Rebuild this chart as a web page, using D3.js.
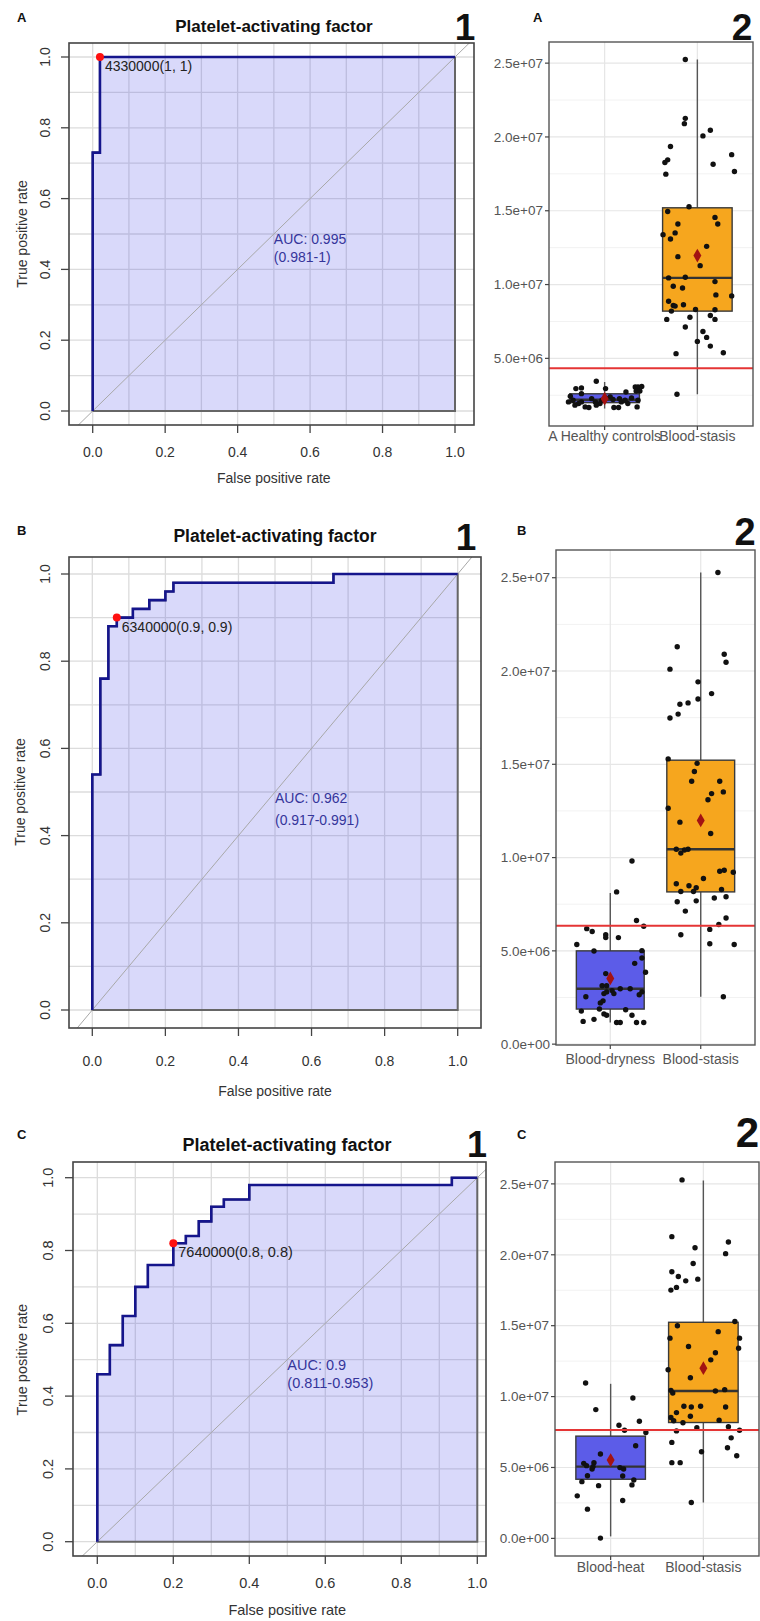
<!DOCTYPE html>
<html>
<head>
<meta charset="utf-8">
<style>
  body { margin:0; background:#fff; }
  svg { display:block; font-family: "Liberation Sans", Arial, sans-serif; }
</style>
<script src="https://d3js.org/d3.v7.min.js"></script>
</head>
<body>
<svg width="760" height="1621"></svg>
<script>
// ROC curves (step vertices, false positive rate / true positive rate)
var rocA_fpr = [0, 0, 0.02, 0.02, 1];
var rocA_tpr = [0, 0.73, 0.73, 1, 1];
var rocB_fpr = [0, 0, 0.022, 0.022, 0.044, 0.044, 0.067, 0.067, 0.111, 0.111, 0.156, 0.156, 0.2, 0.2, 0.222, 0.222, 0.66, 0.66, 1];
var rocB_tpr = [0, 0.54, 0.54, 0.76, 0.76, 0.88, 0.88, 0.90, 0.90, 0.92, 0.92, 0.94, 0.94, 0.96, 0.96, 0.98, 0.98, 1, 1];
var rocC_fpr = [0, 0, 0.033, 0.033, 0.067, 0.067, 0.1, 0.1, 0.133, 0.133, 0.2, 0.2, 0.233, 0.233, 0.267, 0.267, 0.3, 0.3, 0.333, 0.333, 0.4, 0.4, 0.933, 0.933, 1];
var rocC_tpr = [0, 0.46, 0.46, 0.54, 0.54, 0.62, 0.62, 0.70, 0.70, 0.76, 0.76, 0.82, 0.82, 0.84, 0.84, 0.88, 0.88, 0.92, 0.92, 0.94, 0.94, 0.98, 0.98, 1, 1];

var bestFpr = [0.02, 0.067, 0.2];
var bestTpr = [1, 0.9, 0.82];
var thrLabels = ["4330000(1, 1)", "6340000(0.9, 0.9)", "7640000(0.8, 0.8)"];
var aucText = ["AUC: 0.995", "AUC: 0.962", "AUC: 0.9"];
var aucCI = ["(0.981-1)", "(0.917-0.991)", "(0.811-0.953)"];
var rocTicks = [0, 0.2, 0.4, 0.6, 0.8, 1.0];

// cutoffs (millions)
var cutoffs = [4.33, 6.34, 7.64];

// boxplot groups
var groupsA = ["A Healthy controls", "Blood-stasis"];
var groupsB = ["Blood-dryness", "Blood-stasis"];
var groupsC = ["Blood-heat", "Blood-stasis"];
var boxTicks = [0, 5, 10, 15, 20, 25];

// box stats in millions: [lower whisker, q1, median, q3, upper whisker, mean]
var statsHealthy = [1.6, 2.0, 2.2, 2.6, 3.4, 2.27];
var statsStasisA = [2.57, 8.2, 10.45, 15.2, 25.25, 11.96];
var statsDry = [1.16, 1.88, 2.97, 5.0, 8.1, 3.52];
var statsStasisB = [2.54, 8.16, 10.45, 15.22, 25.28, 11.99];
var statsHeat = [0.14, 4.17, 5.06, 7.21, 10.9, 5.52];
var statsStasisC = [2.53, 8.17, 10.39, 15.24, 25.23, 12.0];

// jittered points: value (millions) and horizontal offset (category units)
var healthyVals = [3.45,2.95,2.95,3.0,2.72,3.06,3.06,3.1,2.79,2.79,2.43,2.61,2.05,1.94,1.71,1.67,2.05,1.94,2.32,2.39,1.67,1.67,2.05,1.94,1.71,2.16,2.27,2.21,2.32,2.27,1.83,2.16,2.16,2.05,1.83,2.16];
var healthyJit = [-0.09,0.01,-0.31,-0.25,0.23,0.33,0.36,0.40,0.34,0.38,-0.37,-0.25,-0.39,-0.28,-0.21,-0.17,-0.10,-0.05,0.01,0.06,0.10,0.15,0.18,0.25,0.35,-0.34,-0.14,0.09,0.29,0.16,-0.32,-0.03,0.22,-0.25,-0.09,0.36];
var stasisA_vals = [25.25,21.26,20.9,20.45,20.07,19.35,18.45,18.27,18.8,18.15,17.66,17.48,15.27,14.95,14.55,14.1,14.1,13.5,13.38,13.09,12.59,11.89,11.28,10.45,10.5,10.2,9.89,9.77,9.3,9.23,8.87,8.58,8.63,8.54,8.2,8.31,8.29,7.79,7.9,7.64,7.64,7.12,6.82,6.42,6.15,5.83,5.32,5.38,2.57];
var stasisA_jit = [-0.13,-0.13,-0.14,0.14,0.06,-0.29,-0.32,-0.35,0.37,0.17,0.40,-0.34,-0.09,-0.32,0.19,0.22,-0.21,-0.24,-0.37,-0.29,0.10,-0.21,0.03,-0.31,-0.13,0.19,-0.26,-0.16,0.20,0.37,-0.31,-0.26,-0.15,-0.24,-0.28,-0.02,0.19,-0.08,0.14,-0.33,0.19,-0.13,0.06,0.10,0.00,0.14,-0.23,0.28,-0.22];
var dryVals = [9.82,8.16,6.63,6.32,6.19,6.04,5.86,5.71,5.71,5.34,4.99,5.01,4.62,4.33,3.85,3.78,3.13,3.13,2.97,2.97,2.87,2.80,2.71,2.80,2.65,2.71,2.54,2.32,2.21,1.88,1.77,1.84,1.55,1.62,1.55,1.22,1.33,1.16,1.16,1.16,1.16];
var dryJit = [0.24,0.07,0.29,0.37,-0.26,-0.20,-0.05,-0.05,0.09,-0.37,-0.18,0.35,0.35,0.27,0.39,-0.05,-0.09,-0.04,0.22,0.11,0.02,-0.04,0.04,0.35,0.32,-0.07,-0.27,-0.08,-0.11,-0.12,-0.32,0.17,0.24,-0.07,-0.04,-0.30,-0.18,0.07,0.11,0.29,0.37];
var stasisB_vals = [25.28,21.3,20.9,20.47,20.1,19.42,18.79,18.22,18.29,17.69,17.48,18.5,15.29,15.05,14.61,14.09,14.09,13.52,13.43,13.1,12.64,11.9,11.29,10.45,10.45,10.24,10.41,9.32,9.27,9.21,8.88,8.6,8.49,8.38,8.18,8.18,8.29,7.9,7.83,7.63,7.68,7.13,6.76,6.41,6.15,5.86,5.38,5.34,2.54];
var stasisB_jit = [0.19,-0.26,0.26,0.28,-0.34,-0.03,0.12,-0.23,-0.14,-0.25,-0.34,-0.03,-0.36,-0.04,-0.07,-0.10,0.21,0.25,0.12,0.08,-0.36,-0.23,0.11,-0.27,-0.14,-0.22,-0.18,0.26,0.21,0.36,0.03,-0.27,-0.13,-0.05,-0.22,-0.08,0.23,0.28,0.15,-0.26,-0.05,-0.17,0.28,0.20,0.10,-0.22,0.10,0.37,0.25];
var heatVals = [10.96,9.9,9.08,7.98,8.26,7.63,7.47,6.53,5.95,5.29,5.13,5.34,5.06,4.89,4.42,4.0,4.99,4.89,4.4,4.12,3.77,3.72,3.0,2.67,2.06,0.02];
var heatJit = [-0.27,0.24,-0.16,0.09,0.31,0.15,0.38,0.27,-0.11,-0.29,-0.26,-0.18,-0.19,-0.20,-0.25,-0.31,0.10,0.14,0.13,0.25,0.23,-0.13,-0.36,0.13,-0.25,-0.11];
var stasisC_vals = [25.28,21.28,20.9,20.5,20.08,19.38,18.8,18.47,18.16,18.28,17.51,17.7,15.29,15.0,14.58,14.12,14.12,13.53,13.41,13.09,12.59,11.89,11.33,10.44,10.25,10.39,10.49,8.87,9.32,9.27,9.32,9.27,8.52,8.61,8.29,8.15,8.33,7.8,7.87,7.58,7.63,7.09,6.77,6.39,6.11,5.83,5.34,5.34,2.53];
var stasisC_jit = [-0.23,-0.34,0.27,-0.09,0.24,-0.11,-0.34,-0.27,-0.19,-0.06,-0.35,-0.29,0.34,-0.28,0.16,-0.36,0.39,-0.16,0.38,0.13,0.08,-0.38,-0.14,-0.35,-0.33,0.13,0.23,-0.29,-0.21,-0.13,-0.03,0.24,-0.35,-0.14,-0.32,-0.22,0.17,-0.07,0.27,-0.29,0.39,0.30,-0.34,0.26,-0.02,0.36,-0.34,-0.25,-0.13];

var svg = d3.select("svg");
var defs = svg.append("defs");

function bigLabel(x, y, txt, size, anchor) {
    svg.append("text").attr("x", x).attr("y", y)
        .attr("text-anchor", anchor || "middle")
        .style("font-size", size + "px").style("font-weight", "bold")
        .attr("fill", "#111").text(txt);
}

function drawRoc(p) {
    var x = d3.scaleLinear().domain([0, 1]).range([p.x0, p.x1]);
    var y = d3.scaleLinear().domain([0, 1]).range([p.y0, p.y1]);

    defs.append("clipPath").attr("id", "clip" + p.id)
        .append("rect").attr("x", p.l).attr("y", p.t)
        .attr("width", p.r - p.l).attr("height", p.b - p.t);
    var inner = svg.append("g").attr("clip-path", "url(#clip" + p.id + ")");

    var grid = d3.range(0, 11).map(d => d / 10);
    inner.selectAll(".vg").data(grid).enter().append("line")
        .attr("x1", d => x(d)).attr("x2", d => x(d))
        .attr("y1", p.t).attr("y2", p.b)
        .attr("stroke", "#dcdcdc").attr("stroke-width", 1.3);
    inner.selectAll(".hg").data(grid).enter().append("line")
        .attr("x1", p.l).attr("x2", p.r)
        .attr("y1", d => y(d)).attr("y2", d => y(d))
        .attr("stroke", "#dcdcdc").attr("stroke-width", 1.3);

    var pts = p.fpr.map((f, i) => [x(f), y(p.tpr[i])]);
    var poly = pts.concat([[x(1), y(0)]]);
    inner.append("path")
        .attr("d", d3.line()(poly) + "Z")
        .attr("fill", "#5050e6").attr("fill-opacity", 0.22)
        .attr("stroke", "#666").attr("stroke-width", 2);

    inner.append("line")
        .attr("x1", x(-1)).attr("y1", y(-1))
        .attr("x2", x(2)).attr("y2", y(2))
        .attr("stroke", "#a8a8a8").attr("stroke-width", 1);

    inner.append("path")
        .attr("d", d3.line()(pts))
        .attr("fill", "none").attr("stroke", "#15158c").attr("stroke-width", 2.6);

    svg.append("circle")
        .attr("cx", x(p.bf)).attr("cy", y(p.bt)).attr("r", 4)
        .attr("fill", "#ff1010");
    svg.append("text")
        .attr("x", x(p.bf) + 5).attr("y", y(p.bt) + 9).attr("dy", "0.35em")
        .style("font-size", p.fs + "px").attr("fill", "#222")
        .text(p.thr);

    svg.append("text")
        .attr("x", x(0.5)).attr("y", y(0.485)).attr("dy", "0.35em")
        .style("font-size", p.fs + "px").attr("fill", "#35359a")
        .text(p.auc);
    svg.append("text")
        .attr("x", x(0.5)).attr("y", y(0.435)).attr("dy", "0.35em")
        .style("font-size", p.fs + "px").attr("fill", "#35359a")
        .text(p.ci);

    svg.append("rect")
        .attr("x", p.l).attr("y", p.t)
        .attr("width", p.r - p.l).attr("height", p.b - p.t)
        .attr("fill", "none").attr("stroke", "#444").attr("stroke-width", 1.6);

    svg.selectAll(".xt" + p.id).data(rocTicks).enter().append("line")
        .attr("x1", d => x(d)).attr("x2", d => x(d))
        .attr("y1", p.b).attr("y2", p.b + 8)
        .attr("stroke", "#444").attr("stroke-width", 1.3);
    svg.selectAll(".yt" + p.id).data(rocTicks).enter().append("line")
        .attr("x1", p.l - 8).attr("x2", p.l)
        .attr("y1", d => y(d)).attr("y2", d => y(d))
        .attr("stroke", "#444").attr("stroke-width", 1.3);

    svg.selectAll(".xl" + p.id).data(rocTicks).enter().append("text")
        .attr("x", d => x(d)).attr("y", p.tickY).attr("dy", "0.35em")
        .attr("text-anchor", "middle")
        .style("font-size", p.fs + "px").attr("fill", "#333")
        .text(d => d3.format(".1f")(d));
    svg.selectAll(".yl" + p.id).data(rocTicks).enter().append("text")
        .attr("transform", d => "translate(" + [p.yTickX, y(d)] + ") rotate(-90)")
        .attr("dy", "0.35em")
        .attr("text-anchor", "middle")
        .style("font-size", p.fs + "px").attr("fill", "#333")
        .text(d => d3.format(".1f")(d));

    svg.append("text")
        .attr("x", x(0.5)).attr("y", p.titleY).attr("dy", "0.35em")
        .attr("text-anchor", "middle")
        .style("font-size", p.fs + "px").attr("fill", "#333")
        .text("False positive rate");
    svg.append("text")
        .attr("transform", "translate(" + [p.yTitleX, y(0.5)] + ") rotate(-90)")
        .attr("dy", "0.35em")
        .attr("text-anchor", "middle")
        .style("font-size", p.fs + "px").attr("fill", "#333")
        .text("True positive rate");

    svg.append("text")
        .attr("x", p.headX).attr("y", p.headY)
        .attr("text-anchor", "middle")
        .style("font-size", p.hfs + "px").style("font-weight", "bold")
        .attr("fill", "#111")
        .text("Platelet-activating factor");

    svg.append("text")
        .attr("x", 17).attr("y", p.letterY)
        .style("font-size", "13px").style("font-weight", "bold")
        .attr("fill", "#111").text(p.id);
    bigLabel(p.numX, p.numY, "1", p.numFs);
}

function fmtSci(d) {
    return (d * 1e6).toExponential(1).replace(/e([+-])(\d)$/, "e$10$2");
}

function drawBox(p) {
    var x = d3.scaleLinear().domain([0.4, 2.6]).range([p.l, p.r]);
    var all = [];
    p.groups.forEach(g => { all = all.concat(g.vals, g.stats.slice(0, 5)); });
    var ext = d3.extent(all);
    var pad = (ext[1] - ext[0]) * 0.05;
    var y = d3.scaleLinear().domain([ext[0] - pad, ext[1] + pad]).range([p.b, p.t]);
    var dom = y.domain();
    var inDom = v => v >= dom[0] && v <= dom[1];

    var major = boxTicks.filter(inDom);
    var minor = d3.range(2.5, 30, 5).filter(inDom);

    svg.selectAll(".mn" + p.id).data(minor).enter().append("line")
        .attr("x1", p.l).attr("x2", p.r)
        .attr("y1", d => y(d)).attr("y2", d => y(d))
        .attr("stroke", "#f2f2f2").attr("stroke-width", 1);
    svg.selectAll(".mj" + p.id).data(major).enter().append("line")
        .attr("x1", p.l).attr("x2", p.r)
        .attr("y1", d => y(d)).attr("y2", d => y(d))
        .attr("stroke", "#e6e6e6").attr("stroke-width", 1.2);
    svg.selectAll(".vg" + p.id).data([1, 2]).enter().append("line")
        .attr("x1", d => x(d)).attr("x2", d => x(d))
        .attr("y1", p.t).attr("y2", p.b)
        .attr("stroke", "#e6e6e6").attr("stroke-width", 1.2);

    p.groups.forEach((g, i) => {
        var cx = i + 1;
        var s = g.stats;
        svg.append("line")
            .attr("x1", x(cx)).attr("x2", x(cx))
            .attr("y1", y(s[0])).attr("y2", y(s[4]))
            .attr("stroke", "#555").attr("stroke-width", 1.4);
        svg.append("rect")
            .attr("x", x(cx - 0.375)).attr("y", y(s[3]))
            .attr("width", x(cx + 0.375) - x(cx - 0.375))
            .attr("height", y(s[1]) - y(s[3]))
            .attr("fill", g.color).attr("stroke", "#3a3a3a").attr("stroke-width", 1.4);
        svg.append("line")
            .attr("x1", x(cx - 0.375)).attr("x2", x(cx + 0.375))
            .attr("y1", y(s[2])).attr("y2", y(s[2]))
            .attr("stroke", "#333").attr("stroke-width", 2.4);
    });

    p.groups.forEach((g, i) => {
        svg.selectAll(".pt" + p.id + i).data(g.vals).enter().append("circle")
            .attr("cx", (d, j) => x(i + 1 + g.jit[j]))
            .attr("cy", d => y(d))
            .attr("r", 2.7)
            .attr("fill", "#111");
    });

    p.groups.forEach((g, i) => {
        svg.append("path")
            .attr("d", d3.symbol().type(d3.symbolDiamond).size(55)())
            .attr("transform", "translate(" + [x(i + 1), y(g.stats[5])] + ")")
            .attr("fill", "#a31212");
    });

    svg.append("line")
        .attr("x1", p.l).attr("x2", p.r)
        .attr("y1", y(p.cut)).attr("y2", y(p.cut))
        .attr("stroke", "#e53535").attr("stroke-width", 2);

    svg.append("rect")
        .attr("x", p.l).attr("y", p.t)
        .attr("width", p.r - p.l).attr("height", p.b - p.t)
        .attr("fill", "none").attr("stroke", "#555").attr("stroke-width", 1.4);

    svg.selectAll(".yt" + p.id).data(major).enter().append("line")
        .attr("x1", p.l - 4).attr("x2", p.l)
        .attr("y1", d => y(d)).attr("y2", d => y(d))
        .attr("stroke", "#444").attr("stroke-width", 1.2);
    svg.selectAll(".yl" + p.id).data(major).enter().append("text")
        .attr("x", p.l - 6).attr("y", d => y(d)).attr("dy", "0.35em")
        .attr("text-anchor", "end")
        .style("font-size", "13.5px").attr("fill", "#555")
        .text(fmtSci);
    svg.selectAll(".xt" + p.id).data([1, 2]).enter().append("line")
        .attr("x1", d => x(d)).attr("x2", d => x(d))
        .attr("y1", p.b).attr("y2", p.b + 4)
        .attr("stroke", "#444").attr("stroke-width", 1.2);
    svg.selectAll(".xl" + p.id).data(p.groups).enter().append("text")
        .attr("x", (d, i) => x(i + 1)).attr("y", p.labY).attr("dy", "0.35em")
        .attr("text-anchor", "middle")
        .style("font-size", "14px").attr("fill", "#555")
        .text(d => d.name);

    svg.append("text")
        .attr("x", p.letterX).attr("y", p.letterY)
        .style("font-size", "13px").style("font-weight", "bold")
        .attr("fill", "#111").text(p.id);
    bigLabel(p.numX, p.numY, "2", p.numFs, p.numAnchor);
}

var blue = "#5c5ce8", orange = "#f6a61e";

drawRoc({id: "A", fpr: rocA_fpr, tpr: rocA_tpr, bf: bestFpr[0], bt: bestTpr[0],
    thr: thrLabels[0], auc: aucText[0], ci: aucCI[0],
    l: 69, t: 43, r: 474, b: 425, x0: 92.7, x1: 455, y0: 411, y1: 57,
    tickY: 452, titleY: 478, yTickX: 45, yTitleX: 22,
    headX: 274, headY: 32, hfs: 17, fs: 14, letterY: 22, numX: 465, numY: 40, numFs: 37});
drawRoc({id: "B", fpr: rocB_fpr, tpr: rocB_tpr, bf: bestFpr[1], bt: bestTpr[1],
    thr: thrLabels[1], auc: aucText[1], ci: aucCI[1],
    l: 69, t: 557, r: 481, b: 1028, x0: 92.3, x1: 457.7, y0: 1010, y1: 574,
    tickY: 1061, titleY: 1091, yTickX: 45, yTitleX: 20,
    headX: 275, headY: 542, hfs: 17.5, fs: 14, letterY: 535, numX: 466, numY: 550, numFs: 37});
drawRoc({id: "C", fpr: rocC_fpr, tpr: rocC_tpr, bf: bestFpr[2], bt: bestTpr[2],
    thr: thrLabels[2], auc: aucText[2], ci: aucCI[2],
    l: 73, t: 1162, r: 486, b: 1556, x0: 97.3, x1: 477.3, y0: 1541.7, y1: 1177.7,
    tickY: 1583, titleY: 1610, yTickX: 48, yTitleX: 22,
    headX: 287, headY: 1151, hfs: 18, fs: 14.5, letterY: 1139, numX: 477, numY: 1157, numFs: 36});

drawBox({id: "A", cut: cutoffs[0], l: 549, t: 42, r: 753, b: 426, labY: 436,
    letterX: 533, letterY: 22, numX: 742, numY: 40, numFs: 37,
    groups: [
        {name: groupsA[0], vals: healthyVals, jit: healthyJit, stats: statsHealthy, color: blue},
        {name: groupsA[1], vals: stasisA_vals, jit: stasisA_jit, stats: statsStasisA, color: orange}
    ]});
drawBox({id: "B", cut: cutoffs[1], l: 556, t: 550, r: 755, b: 1045, labY: 1059,
    letterX: 517, letterY: 535, numX: 745, numY: 545, numFs: 38,
    groups: [
        {name: groupsB[0], vals: dryVals, jit: dryJit, stats: statsDry, color: blue},
        {name: groupsB[1], vals: stasisB_vals, jit: stasisB_jit, stats: statsStasisB, color: orange}
    ]});
drawBox({id: "C", cut: cutoffs[2], l: 555, t: 1162, r: 759, b: 1556, labY: 1567,
    letterX: 517, letterY: 1139, numX: 759, numY: 1147, numFs: 42, numAnchor: "end",
    groups: [
        {name: groupsC[0], vals: heatVals, jit: heatJit, stats: statsHeat, color: blue},
        {name: groupsC[1], vals: stasisC_vals, jit: stasisC_jit, stats: statsStasisC, color: orange}
    ]});
</script>
</body>
</html>
